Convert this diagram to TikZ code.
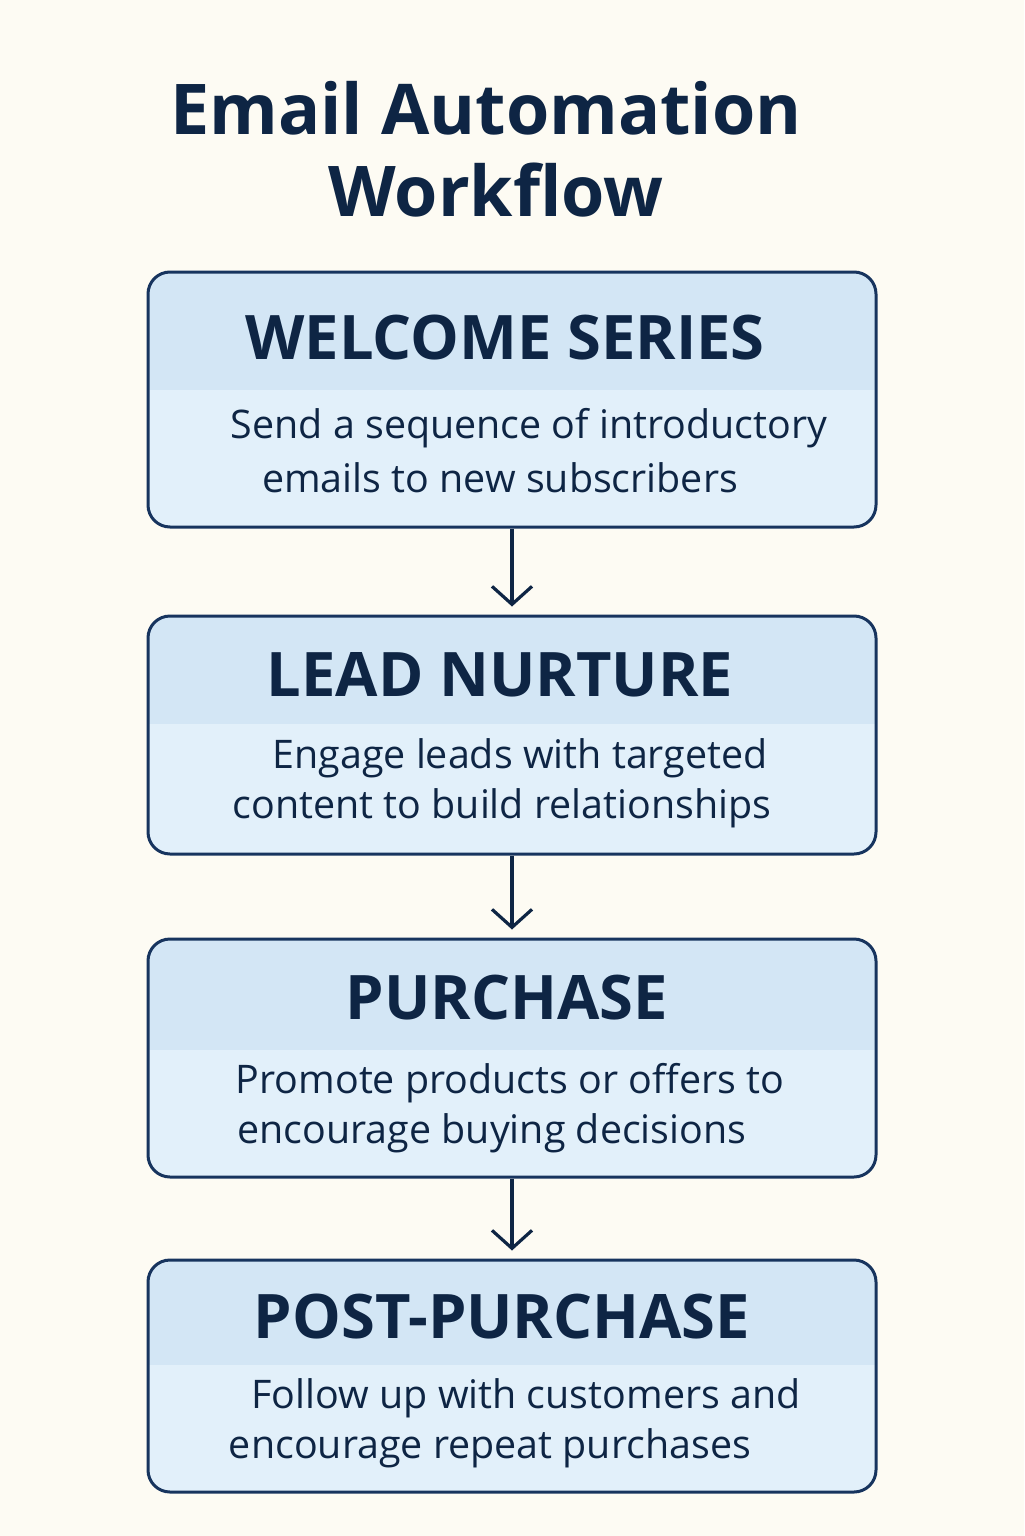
\documentclass[tikz,border=0pt]{standalone}
\usepackage{fontspec}
\setmainfont{Open Sans}
\usetikzlibrary{arrows.meta}
\definecolor{bgc}{HTML}{FDFBF3}
\definecolor{ink}{HTML}{0E2544}
\definecolor{edge}{HTML}{17345E}
\definecolor{headc}{HTML}{D3E6F5}
\definecolor{bodyc}{HTML}{E2F0FA}
\tikzset{
  card/.style={draw=edge, line width=1.5pt, rounded corners=11pt, fill=bodyc,
    minimum width=364pt, inner sep=0pt},
  hdr/.style={path picture={\fill[headc, sharp corners] (path picture bounding box.north west) rectangle ([yshift=-#1]path picture bounding box.north east);}},
  title/.style={font=\fontsize{35}{42}\selectfont\bfseries, text=ink},
  head/.style={font=\fontsize{30.7}{36}\selectfont\bfseries, text=ink},
  body/.style={font=\fontsize{19.7}{24}\selectfont, text=ink},
  flow/.style={draw=ink, line width=1.6pt, -{Straight Barb[length=9pt,width=20pt,line width=1.6pt]}, shorten >=4pt}
}
\begin{document}
\begin{tikzpicture}[x=0.5pt,y=-0.5pt]
\fill[bgc] (0,0) rectangle (1024,1536);
\useasboundingbox (0,0) rectangle (1024,1536);
\node[title] (t1) at (486,108) {Email Automation};
\node[title] (t2) at (496,190) {Workflow};

\node[card, minimum height=127.5pt, hdr=59pt] (b1) at (512,399.5) {};
\node[card, minimum height=119pt, hdr=54pt] (b2) at (512,735) {};
\node[card, minimum height=119pt, hdr=55.5pt] (b3) at (512,1058) {};
\node[card, minimum height=116pt, hdr=52.5pt] (b4) at (512,1376) {};

\node[head] (h1) at (505,338) {WELCOME SERIES};
\node[body] (l1a) at (529,428) {Send a sequence of introductory};
\node[body] (l1b) at (500,478) {emails to new subscribers};

\node[head] (h2) at (500,675) {LEAD NURTURE};
\node[body] (l2a) at (520,758) {Engage leads with targeted};
\node[body] (l2b) at (502,808) {content to build relationships};

\node[head] (h3) at (507,998) {PURCHASE};
\node[body] (l3a) at (510,1083) {Promote products or offers to};
\node[body] (l3b) at (492,1133) {encourage buying decisions};

\node[head] (h4) at (502,1317) {POST-PURCHASE};
\node[body] (l4a) at (526,1398) {Follow up with customers and};
\node[body] (l4b) at (490,1448) {encourage repeat purchases};

\draw[flow] (b1) -- (b2);
\draw[flow] (b2) -- (b3);
\draw[flow] (b3) -- (b4);
\end{tikzpicture}
\end{document}
